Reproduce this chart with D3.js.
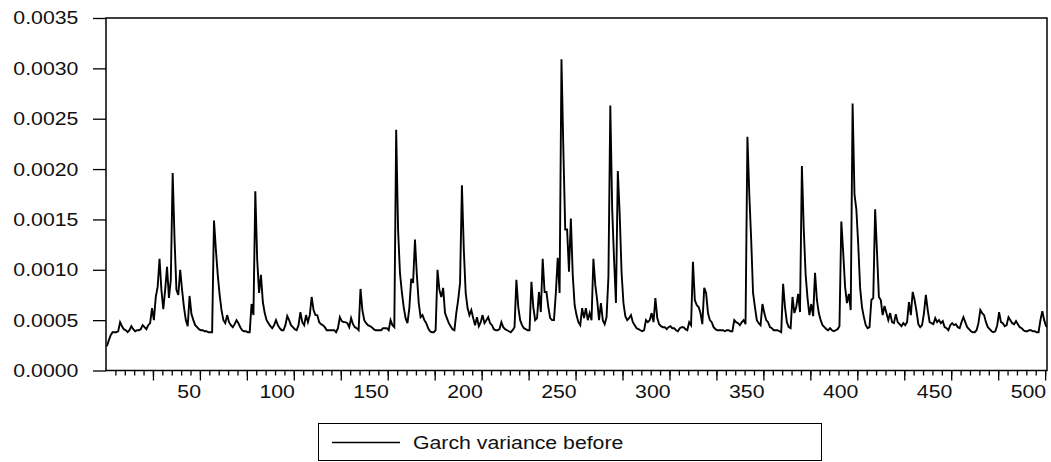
<!DOCTYPE html>
<html>
<head>
<meta charset="utf-8">
<script src="https://cdn.jsdelivr.net/npm/d3@7"></script>
<style>
  body { margin: 0; background: #fff; }
  svg { display: block; font-family: "Liberation Sans", Arial, sans-serif; }
</style>
</head>
<body>
<svg id="chart"></svg>
<script>
const variance = [
  0.00024, 0.00030, 0.00035, 0.00038, 0.00038, 0.00038, 0.00039, 0.00048, 0.00044, 0.00041,
  0.00040, 0.00038, 0.00040, 0.00044, 0.00041, 0.00039, 0.00040, 0.00040, 0.00041, 0.00045,
  0.00043, 0.00041, 0.00045, 0.00047, 0.00062, 0.00050, 0.00073, 0.00083, 0.00111, 0.00080,
  0.00061, 0.00080, 0.00103, 0.00072, 0.00090, 0.00196, 0.00130, 0.00080, 0.00075, 0.00100,
  0.00080, 0.00063, 0.00050, 0.00044, 0.00074, 0.00056, 0.00050, 0.00045, 0.00043, 0.00041,
  0.00040, 0.00040, 0.00039, 0.00039, 0.00038, 0.00038, 0.00038, 0.00149, 0.00120, 0.00095,
  0.00075, 0.00060, 0.00050, 0.00047, 0.00055, 0.00048, 0.00045, 0.00043, 0.00046, 0.00050,
  0.00047, 0.00043, 0.00040, 0.00039, 0.00039, 0.00038, 0.00038, 0.00066, 0.00055, 0.00178,
  0.00110, 0.00077, 0.00095, 0.00068, 0.00057, 0.00050, 0.00047, 0.00044, 0.00042, 0.00045,
  0.00050, 0.00045, 0.00042, 0.00040, 0.00040, 0.00045, 0.00054, 0.00050, 0.00045, 0.00043,
  0.00041, 0.00040, 0.00045, 0.00058, 0.00048, 0.00045, 0.00055, 0.00048, 0.00055, 0.00073,
  0.00060, 0.00055, 0.00055, 0.00048, 0.00046, 0.00045, 0.00043, 0.00040, 0.00040, 0.00040,
  0.00040, 0.00040, 0.00038, 0.00042, 0.00053, 0.00049, 0.00048, 0.00048, 0.00047, 0.00043,
  0.00052, 0.00046, 0.00043, 0.00042, 0.00040, 0.00081, 0.00060, 0.00050, 0.00047, 0.00045,
  0.00044, 0.00043, 0.00041, 0.00040, 0.00040, 0.00040, 0.00040, 0.00042, 0.00042, 0.00042,
  0.00040, 0.00050, 0.00045, 0.00043, 0.00239, 0.00140, 0.00097, 0.00078, 0.00063, 0.00052,
  0.00047, 0.00062, 0.00091, 0.00087, 0.00130, 0.00095, 0.00067, 0.00053, 0.00055, 0.00050,
  0.00047, 0.00042, 0.00039, 0.00038, 0.00038, 0.00040, 0.00100, 0.00080, 0.00073, 0.00082,
  0.00057, 0.00052, 0.00047, 0.00044, 0.00041, 0.00040, 0.00057, 0.00070, 0.00087, 0.00184,
  0.00120, 0.00077, 0.00062, 0.00055, 0.00060, 0.00052, 0.00045, 0.00053, 0.00044, 0.00048,
  0.00055, 0.00047, 0.00050, 0.00053, 0.00047, 0.00045, 0.00041, 0.00040, 0.00040, 0.00041,
  0.00048, 0.00043, 0.00041, 0.00040, 0.00039, 0.00038, 0.00040, 0.00043, 0.00090, 0.00063,
  0.00050, 0.00045, 0.00042, 0.00041, 0.00040, 0.00040, 0.00088, 0.00063, 0.00050, 0.00052,
  0.00078, 0.00058, 0.00111, 0.00078, 0.00078, 0.00063, 0.00052, 0.00050, 0.00050, 0.00077,
  0.00112, 0.00077, 0.00309, 0.00220, 0.00140, 0.00140, 0.00098, 0.00151, 0.00095, 0.00065,
  0.00055, 0.00048, 0.00045, 0.00062, 0.00052, 0.00062, 0.00050, 0.00057, 0.00050, 0.00111,
  0.00085, 0.00070, 0.00050, 0.00067, 0.00050, 0.00046, 0.00053, 0.00093, 0.00263, 0.00160,
  0.00110, 0.00067, 0.00198, 0.00155, 0.00097, 0.00067, 0.00054, 0.00050, 0.00052, 0.00055,
  0.00048, 0.00045, 0.00042, 0.00041, 0.00040, 0.00039, 0.00040, 0.00050, 0.00048, 0.00050,
  0.00057, 0.00048, 0.00072, 0.00052, 0.00046, 0.00044, 0.00043, 0.00043, 0.00041, 0.00043,
  0.00044, 0.00042, 0.00042, 0.00040, 0.00039, 0.00042, 0.00043, 0.00043, 0.00041, 0.00040,
  0.00048, 0.00045, 0.00108, 0.00070, 0.00065, 0.00063, 0.00057, 0.00046, 0.00082, 0.00077,
  0.00057, 0.00050, 0.00048, 0.00043, 0.00041, 0.00040, 0.00040, 0.00040, 0.00040, 0.00039,
  0.00040, 0.00040, 0.00039, 0.00039, 0.00050, 0.00048, 0.00047, 0.00045, 0.00048, 0.00050,
  0.00046, 0.00232, 0.00175, 0.00130, 0.00077, 0.00063, 0.00050, 0.00047, 0.00045, 0.00066,
  0.00057, 0.00050, 0.00048, 0.00043, 0.00042, 0.00040, 0.00040, 0.00040, 0.00039, 0.00038,
  0.00086, 0.00063, 0.00048, 0.00043, 0.00042, 0.00073, 0.00057, 0.00063, 0.00076, 0.00058,
  0.00203, 0.00140, 0.00095, 0.00072, 0.00055, 0.00066, 0.00054, 0.00097, 0.00070, 0.00057,
  0.00050, 0.00045, 0.00043, 0.00041, 0.00040, 0.00042, 0.00040, 0.00039, 0.00040, 0.00041,
  0.00044, 0.00148, 0.00117, 0.00083, 0.00067, 0.00076, 0.00060, 0.00265, 0.00175, 0.00160,
  0.00125, 0.00082, 0.00063, 0.00053, 0.00045, 0.00042, 0.00043, 0.00070, 0.00072, 0.00160,
  0.00117, 0.00073, 0.00070, 0.00055, 0.00064, 0.00057, 0.00050, 0.00057, 0.00048, 0.00047,
  0.00056, 0.00048, 0.00046, 0.00044, 0.00047, 0.00045, 0.00048, 0.00068, 0.00055, 0.00078,
  0.00070, 0.00059, 0.00046, 0.00043, 0.00045, 0.00057, 0.00075, 0.00060, 0.00048, 0.00047,
  0.00046, 0.00052, 0.00048, 0.00050, 0.00047, 0.00049, 0.00043, 0.00042, 0.00040, 0.00045,
  0.00047, 0.00045, 0.00046, 0.00043, 0.00042, 0.00048, 0.00053, 0.00048, 0.00043, 0.00041,
  0.00039, 0.00038, 0.00038, 0.00040, 0.00047, 0.00060, 0.00057, 0.00055, 0.00048, 0.00043,
  0.00041, 0.00039, 0.00038, 0.00039, 0.00045, 0.00058, 0.00048, 0.00047, 0.00044, 0.00045,
  0.00053, 0.00050, 0.00047, 0.00046, 0.00049, 0.00046, 0.00043, 0.00042, 0.00040, 0.00039,
  0.00039, 0.00040, 0.00040, 0.00039, 0.00039, 0.00038, 0.00038, 0.00050, 0.00059, 0.00050,
  0.00044, 0.00043
];

const yTicks = [0, 0.0005, 0.001, 0.0015, 0.002, 0.0025, 0.003, 0.0035];
const xMinorTicks = d3.range(5, 501, 5);
const xMajorTicks = [25, 50, 75, 100, 125, 150, 175, 200, 225, 250, 275, 300, 325, 350, 375, 400, 425, 450, 475, 500];
const xLabelTicks = [50, 100, 150, 200, 250, 300, 350, 400, 450, 500];
const seriesName = "Garch variance before";

const width = 1051;
const height = 462;
const plot = { left: 106, top: 18, right: 1047, bottom: 370.5 };
const fontSize = 18.5;
const stretch = 1.15; // source text is drawn wider than it is tall

const x = d3.scaleLinear().domain([0, 501]).range([plot.left, plot.right]);
const y = d3.scaleLinear().domain([0, 0.0035]).range([plot.bottom, plot.top]);

const svg = d3.select("#chart").attr("width", width).attr("height", height);

svg.append("clipPath").attr("id", "plot-clip")
  .append("rect")
  .attr("x", plot.left).attr("y", plot.top)
  .attr("width", plot.right - plot.left).attr("height", plot.bottom - plot.top);

// y axis: outward ticks, 4-decimal labels
const yAxis = svg.append("g")
  .attr("transform", `translate(${plot.left},0)`)
  .call(d3.axisLeft(y).tickValues(yTicks).tickFormat(d3.format(".4f"))
    .tickSize(13).tickPadding(11).tickSizeOuter(0));
yAxis.select(".domain").remove();
yAxis.selectAll(".tick line").attr("stroke", "#000").attr("stroke-width", 1.3);
yAxis.selectAll(".tick text")
  .attr("fill", "#111")
  .style("font-size", fontSize + "px")
  .attr("transform", `scale(${stretch},1)`);

// x axis: minor ticks every 5 obs, long ticks every 25, labels every 50
const xMinor = svg.append("g")
  .attr("transform", `translate(0,${plot.bottom})`)
  .call(d3.axisBottom(x).tickValues(xMinorTicks).tickSize(5).tickFormat("").tickSizeOuter(0));
xMinor.select(".domain").remove();
xMinor.selectAll(".tick line").attr("stroke", "#000").attr("stroke-width", 1.3);

const xMajor = svg.append("g")
  .attr("transform", `translate(0,${plot.bottom})`)
  .call(d3.axisBottom(x).tickValues(xMajorTicks).tickSize(10).tickSizeOuter(0)
    .tickFormat(d => xLabelTicks.includes(d) ? d : ""));
xMajor.select(".domain").remove();
xMajor.selectAll(".tick line").attr("stroke", "#000").attr("stroke-width", 1.3);
xMajor.selectAll(".tick text")
  .attr("fill", "#111")
  .attr("text-anchor", "end")
  .attr("x", 0.5)
  .attr("y", 27.5)
  .attr("dy", null)
  .style("font-size", fontSize + "px")
  .attr("transform", `scale(${stretch},1)`);

// series line, each observation centred in its slot
svg.append("path")
  .datum(variance)
  .attr("clip-path", "url(#plot-clip)")
  .attr("fill", "none")
  .attr("stroke", "#000")
  .attr("stroke-width", 1.9)
  .attr("stroke-linejoin", "miter")
  .attr("d", d3.line().x((d, i) => x(i + 0.5)).y(d => y(d)));

// plot frame
svg.append("rect")
  .attr("x", plot.left).attr("y", plot.top)
  .attr("width", plot.right - plot.left).attr("height", plot.bottom - plot.top)
  .attr("fill", "none").attr("stroke", "#000").attr("stroke-width", 1.5);

// legend
const legend = svg.append("g");
legend.append("rect")
  .attr("x", 318.5).attr("y", 423.5).attr("width", 503).attr("height", 37)
  .attr("fill", "none").attr("stroke", "#000").attr("stroke-width", 1);
legend.append("line")
  .attr("x1", 332).attr("x2", 400).attr("y1", 442.5).attr("y2", 442.5)
  .attr("stroke", "#000").attr("stroke-width", 1.7);
legend.append("text")
  .attr("transform", `translate(413,449) scale(${stretch},1)`)
  .attr("fill", "#111")
  .style("font-size", fontSize + "px")
  .text(seriesName);
</script>
</body>
</html>
